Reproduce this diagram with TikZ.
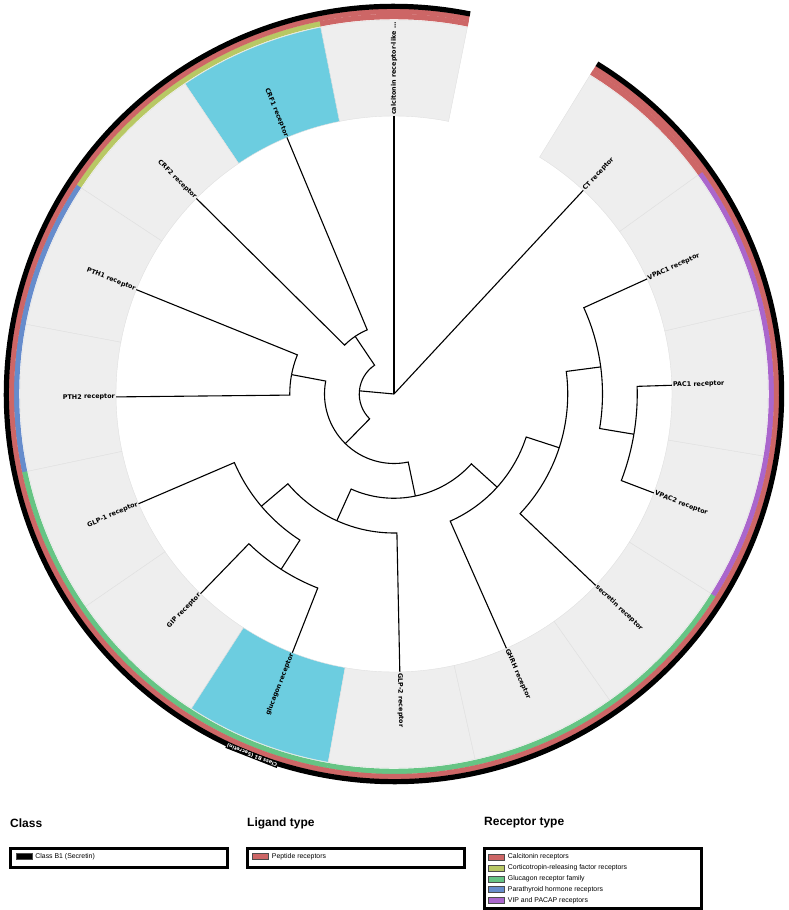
\documentclass[tikz,border=0pt]{standalone}
\usepackage{fontspec}
\newfontfamily\leaffont{DejaVu Sans}
\newfontfamily\legendfont{Liberation Sans}
\usetikzlibrary{positioning}

\definecolor{peptide}{RGB}{205,102,102}
\definecolor{crf}{RGB}{184,200,100}
\definecolor{gcgfam}{RGB}{102,196,132}
\definecolor{pth}{RGB}{102,140,204}
\definecolor{vip}{RGB}{170,102,204}
\definecolor{sectorgray}{RGB}{238,238,238}
\definecolor{sectorline}{RGB}{224,224,224}
\definecolor{hilite}{RGB}{108,205,224}

\tikzset{
  branchline/.style={draw=black, line width=1.1pt},
  sector/.style={fill=sectorgray, draw=sectorline, line width=0.4pt},
  leaflabel/.style={font=\leaffont\bfseries\fontsize{6.4}{7}\selectfont, inner sep=1pt},
  classtag/.style={fill=black, text=white, font=\leaffont\bfseries\fontsize{5}{5.5}\selectfont, inner sep=0.8pt},
  legendhead/.style={font=\legendfont\bfseries\fontsize{12}{14}\selectfont, anchor=west, inner sep=0pt},
  legendbox/.style={draw=black, line width=2.6pt, anchor=north west, inner sep=0pt, minimum width=217pt},
  swatch/.style={draw=black!70, line width=0.5pt, minimum width=16pt, minimum height=6pt, inner sep=0pt},
  legendtext/.style={font=\legendfont\fontsize{6.9}{8}\selectfont, inner sep=0pt}
}

% parent, parent angle, parent radius, child angle, child
\newcommand{\treelink}[5]{\draw[branchline] (#1) arc[start angle=#2, end angle=#4, radius=#3] -- (#5);}

\begin{document}
\begin{tikzpicture}[x=1pt, y=1pt]
  \useasboundingbox (-394,-516) rectangle (395,394);

  % sectors behind the leaves
  \foreach \k/\shade in {0/sectorgray,1/hilite,2/sectorgray,3/sectorgray,4/sectorgray,
      5/sectorgray,6/sectorgray,7/hilite,8/sectorgray,9/sectorgray,10/sectorgray,
      11/sectorgray,12/sectorgray,13/sectorgray,14/sectorgray} {
    \pgfmathsetmacro\lo{90+22.65*\k-11.325}
    \pgfmathsetmacro\hi{90+22.65*\k+11.325}
    \filldraw[sector, fill=\shade] (\lo:278) arc[start angle=\lo, end angle=\hi, radius=278]
      -- (\hi:374) arc[start angle=\hi, end angle=\lo, radius=374] -- cycle;
  }

  % receptor type ring
  \foreach \k/\shade in {0/peptide,1/crf,2/crf,3/pth,4/pth,5/gcgfam,6/gcgfam,7/gcgfam,
      8/gcgfam,9/gcgfam,10/gcgfam,11/vip,12/vip,13/vip,14/peptide} {
    \pgfmathsetmacro\lo{90+22.65*\k-11.35}
    \pgfmathsetmacro\hi{90+22.65*\k+11.35}
    \draw[line width=5.4pt, \shade] (\lo:377.5) arc[start angle=\lo, end angle=\hi, radius=377.5];
  }
  % ligand type and class rings
  \draw[line width=5.4pt, peptide] (78.675:382.6) arc[start angle=78.675, end angle=418.425, radius=382.6];
  \draw[line width=5.2pt, black] (78.675:387.6) arc[start angle=78.675, end angle=418.425, radius=387.6];
  \node[classtag, rotate=158.55] (classtag) at (248.55:388) {Class B1 (Secretin)};

  % leaves
  \foreach \k/\name/\txt in {0/clr/calcitonin receptor-like \ldots, 1/crfa/CRF1 receptor,
      2/crfb/CRF2 receptor, 3/ptha/PTH1 receptor, 4/pthb/PTH2 receptor,
      5/glpa/GLP-1 receptor, 6/gip/GIP receptor, 7/gcg/glucagon receptor,
      8/glpb/GLP-2 receptor, 9/ghrh/GHRH receptor, 10/sct/secretin receptor,
      11/vpacb/VPAC2 receptor, 12/pac/PAC1 receptor, 13/vpaca/VPAC1 receptor,
      14/ct/CT receptor} {
    \pgfmathsetmacro\ang{90+22.65*\k}
    \pgfmathtruncatemacro\leftside{(cos(\ang)<-0.001)?1:0}
    \coordinate (\name) at (\ang:278);
    \ifnum\leftside=1
      \node[leaflabel, anchor=east, rotate=\ang-180] (\name txt) at (\name) {\txt};
    \else
      \node[leaflabel, anchor=west, rotate=\ang] (\name txt) at (\name) {\txt};
    \fi
  }

  % inner nodes of the tree
  \coordinate (root) at (0,0);
  \coordinate (nA) at (174.76:34.75);
  \coordinate (nB) at (123.975:69.5);
  \coordinate (nC) at (225.546:69.5);
  \coordinate (nD) at (169.275:104.25);
  \coordinate (nE) at (281.817:104.25);
  \coordinate (nG) at (245.719:139);
  \coordinate (nF) at (317.915:139);
  \coordinate (nH) at (220.238:173.75);
  \coordinate (nJ) at (341.98:173.75);
  \coordinate (nI) at (237.225:208.5);
  \coordinate (nK) at (367.463:208.5);
  \coordinate (nL) at (350.475:243.25);

  \draw[branchline] (root) -- (clr);
  \draw[branchline] (root) -- (ct);
  \draw[branchline] (root) -- (nA);
  \treelink{nA}{174.76}{34.75}{123.975}{nB}
  \treelink{nA}{174.76}{34.75}{225.546}{nC}
  \treelink{nB}{123.975}{69.5}{112.65}{crfa}
  \treelink{nB}{123.975}{69.5}{135.3}{crfb}
  \treelink{nC}{225.546}{69.5}{169.275}{nD}
  \treelink{nC}{225.546}{69.5}{281.817}{nE}
  \treelink{nD}{169.275}{104.25}{157.95}{ptha}
  \treelink{nD}{169.275}{104.25}{180.6}{pthb}
  \treelink{nE}{281.817}{104.25}{245.719}{nG}
  \treelink{nE}{281.817}{104.25}{317.915}{nF}
  \treelink{nG}{245.719}{139}{220.238}{nH}
  \treelink{nG}{245.719}{139}{271.2}{glpb}
  \treelink{nH}{220.238}{173.75}{203.25}{glpa}
  \treelink{nH}{220.238}{173.75}{237.225}{nI}
  \treelink{nI}{237.225}{208.5}{225.9}{gip}
  \treelink{nI}{237.225}{208.5}{248.55}{gcg}
  \treelink{nF}{317.915}{139}{293.85}{ghrh}
  \treelink{nF}{317.915}{139}{341.98}{nJ}
  \treelink{nJ}{341.98}{173.75}{316.5}{sct}
  \treelink{nJ}{341.98}{173.75}{367.463}{nK}
  \treelink{nK}{367.463}{208.5}{350.475}{nL}
  \treelink{nK}{367.463}{208.5}{384.45}{vpaca}
  \treelink{nL}{350.475}{243.25}{339.15}{vpacb}
  \treelink{nL}{350.475}{243.25}{361.8}{pac}

  % legend
  \node[legendhead] (classhead) at (-384,-429) {Class};
  \node[legendbox, minimum height=19pt] (classbox) at (-385,-453) {};
  \node[swatch, fill=black] (classsw) at (-370,-462.5) {};
  \node[legendtext, right=3pt of classsw] (classtxt) {Class B1 (Secretin)};

  \node[legendhead] (ligandhead) at (-147,-429) {Ligand type};
  \node[legendbox, minimum height=19pt] (ligandbox) at (-148,-453) {};
  \node[swatch, fill=peptide] (ligandsw) at (-133.5,-462.5) {};
  \node[legendtext, right=3pt of ligandsw] (ligandtxt) {Peptide receptors};

  \node[legendhead] (receptorhead) at (90,-429) {Receptor type};
  \node[legendbox, minimum height=60pt] (receptorbox) at (89,-453) {};
  \foreach \i/\shade/\txt in {0/peptide/Calcitonin receptors,
      1/crf/Corticotropin-releasing factor receptors,
      2/gcgfam/Glucagon receptor family,
      3/pth/Parathyroid hormone receptors,
      4/vip/VIP and PACAP receptors} {
    \node[swatch, fill=\shade] (recsw\i) at (102.5,-463-10.9*\i) {};
    \node[legendtext, right=3pt of recsw\i] (rectxt\i) {\txt};
  }
\end{tikzpicture}
\end{document}
